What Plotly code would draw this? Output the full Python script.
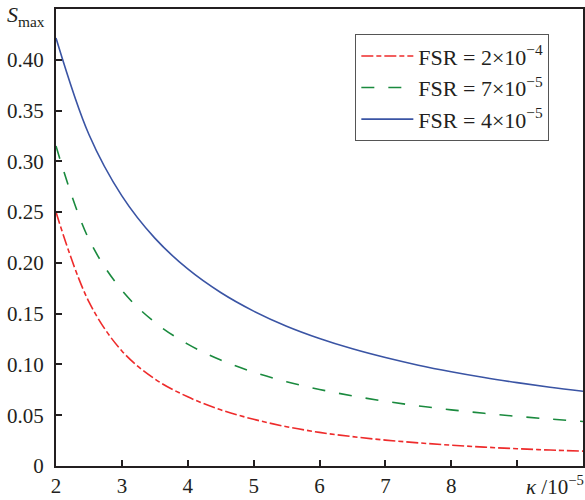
import plotly.graph_objects as go

kappa = [2, 2.5, 3, 3.5, 4, 4.5, 5, 5.5, 6, 6.5, 7, 7.5, 8, 8.5, 9, 9.5, 10]
s_red = [0.25, 0.1616, 0.1133, 0.0857, 0.0681, 0.0553, 0.046, 0.0387, 0.0331, 0.0289,
         0.0255, 0.0228, 0.0205, 0.0186, 0.0170, 0.0157, 0.0146]
s_green = [0.315, 0.2232, 0.173, 0.1415, 0.120, 0.1043, 0.0924, 0.0830, 0.0754, 0.0691,
           0.0637, 0.0592, 0.0553, 0.0519, 0.0489, 0.0462, 0.0438]
s_blue = [0.4215, 0.3264, 0.266, 0.2244, 0.194, 0.1708, 0.1525, 0.1377, 0.1256, 0.1154,
          0.1068, 0.0993, 0.0928, 0.0871, 0.0821, 0.0776, 0.0736]

names = ["FSR = 2×10<sup>−4</sup>", "FSR = 7×10<sup>−5</sup>", "FSR = 4×10<sup>−5</sup>"]
colors = ["#ee2b2b", "#1a8a3e", "#3a54a4"]
dashes = ["12px,3px,5px,3px", "13px,14px", "solid"]

x_ticks = [2, 3, 4, 5, 6, 7, 8, 9, 10]
x_ticktext = ["2", "3", "4", "5", "6", "7", "8", "", ""]
y_ticks = [0, 0.05, 0.10, 0.15, 0.20, 0.25, 0.30, 0.35, 0.40]
y_ticktext = ["0", "0.05", "0.10", "0.15", "0.20", "0.25", "0.30", "0.35", "0.40"]

fig = go.Figure()
for ys, nm, c, d in zip([s_red, s_green, s_blue], names, colors, dashes):
    fig.add_trace(go.Scatter(x=kappa, y=ys, mode="lines", name=nm,
                             line=dict(color=c, width=1.6, dash=d, shape="spline", smoothing=1.0)))

axcol = "#231f20"
serif = "Liberation Serif"
font = dict(family=serif, size=21, color=axcol)
fig.update_layout(
    width=585, height=500,
    margin=dict(l=56, r=2, t=9, b=34, autoexpand=False),
    plot_bgcolor="white", paper_bgcolor="white",
    font=font,
    showlegend=True,
    legend=dict(x=0.568, y=0.945, xanchor="left", yanchor="top",
                bordercolor="#555555", borderwidth=1, bgcolor="white",
                font=dict(family=serif, size=22, color=axcol),
                tracegroupgap=0, itemwidth=52),
)
fig.update_xaxes(range=[2, 10], tickvals=x_ticks, ticktext=x_ticktext,
                 ticks="inside", ticklen=6, tickwidth=1.5, tickcolor=axcol,
                 automargin=False,
                 showline=True, linecolor=axcol, linewidth=2, mirror=True,
                 showgrid=False, zeroline=False)
fig.update_yaxes(range=[0, 0.45], tickvals=y_ticks, ticktext=y_ticktext,
                 ticks="inside", ticklen=6, tickwidth=1.5, tickcolor=axcol,
                 ticklabelstandoff=6, automargin=False,
                 showline=True, linecolor=axcol, linewidth=2, mirror=True,
                 showgrid=False, zeroline=False)

fig.add_annotation(text="<i>S</i><sub>max</sub>", xref="paper", yref="paper",
                   x=0, y=1, xanchor="right", yanchor="top", xshift=-9, yshift=9,
                   showarrow=False, font=dict(family=serif, size=22, color=axcol))
fig.add_annotation(text="<i>κ</i> /10<sup>−5</sup>", xref="paper", yref="paper",
                   x=1, y=0, xanchor="right", yanchor="middle", xshift=3, yshift=-19,
                   showarrow=False, font=dict(family=serif, size=21, color=axcol))

fig.write_html("out.html", config={"displayModeBar": False},
               post_script="document.body.style.margin='0';")
